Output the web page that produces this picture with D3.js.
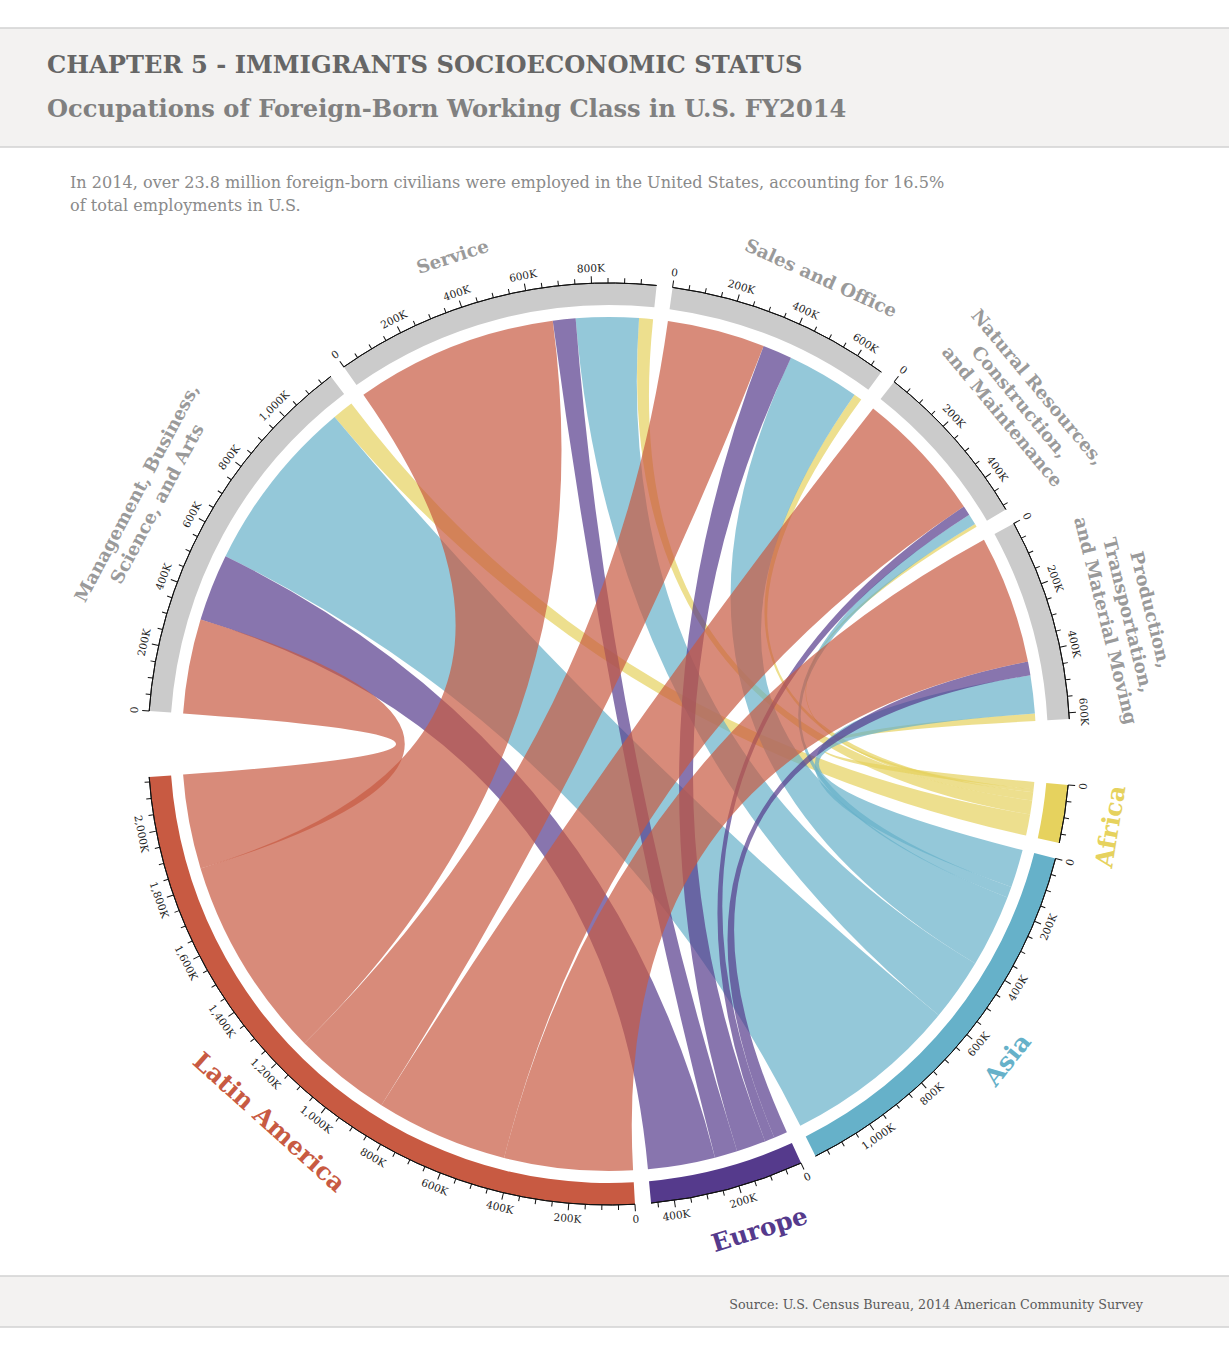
<!DOCTYPE html>
<html>
<head>
<meta charset="utf-8">
<script src="https://cdn.jsdelivr.net/npm/d3@7"></script>
<style>
  body { margin: 0; background: #fff; }
  text { font-family: Georgia, "DejaVu Serif", serif; }
</style>
</head>
<body>
<svg id="chart" width="1229" height="1350"></svg>
<script>
// occupations, drawn clockwise over the top half
const occupations = ["Management, Business, Science, and Arts", "Service", "Sales and Office",
  "Natural Resources, Construction, and Maintenance", "Production, Transportation, and Material Moving"];
const occupationLines = [
  ["Management, Business,", "Science, and Arts"],
  ["Service"],
  ["Sales and Office"],
  ["Natural Resources,", "Construction,", "and Maintenance"],
  ["Production,", "Transportation,", "and Material Moving"]
];
// regions of birth, drawn clockwise over the bottom half
const regions = ["Africa", "Asia", "Europe", "Latin America"];
const regionColors = ["#e6d25e", "#66b1c9", "#553a8c", "#c85a42"];

// employed workers (thousands) by region, in occupation order
const africa = [70, 46, 27, 10, 24];
const asia = [581, 207, 240, 36, 126];
const europe = [222, 75, 97, 32, 45];
const latinAmerica = [312, 669, 323, 437, 424];

const tickStep = 50;     // thousands
const labelStep = 200;   // thousands

const svg = d3.select("#chart");

// header and footer bands
svg.append("rect").attr("x", -1).attr("y", 28).attr("width", 1231).attr("height", 119)
  .attr("fill", "#f3f2f1").attr("stroke", "#d2d2d2").attr("stroke-width", 1.5);
svg.append("rect").attr("x", -1).attr("y", 1276).attr("width", 1231).attr("height", 51)
  .attr("fill", "#f3f2f1").attr("stroke", "#d2d2d2").attr("stroke-width", 1.5);

// shrink or grow a text until it spans the given width
function fit(sel, width) {
  const w = sel.node().getComputedTextLength();
  const fs = parseFloat(sel.style("font-size"));
  sel.style("font-size", (fs * width / w) + "px");
  return fs * width / w;
}

fit(svg.append("text").attr("x", 47).attr("y", 73)
  .style("font-size", "24px").style("font-weight", "bold").attr("fill", "#666")
  .text("CHAPTER 5 - IMMIGRANTS SOCIOECONOMIC STATUS"), 756);
fit(svg.append("text").attr("x", 47).attr("y", 117)
  .style("font-size", "24px").style("font-weight", "bold").attr("fill", "#808080")
  .text("Occupations of Foreign-Born Working Class in U.S. FY2014"), 800);
const subSize = fit(svg.append("text").attr("x", 70).attr("y", 188)
  .style("font-size", "16px").attr("fill", "#8a8a8a")
  .text("In 2014, over 23.8 million foreign-born civilians were employed in the United States, accounting for 16.5%"), 875);
svg.append("text").attr("x", 70).attr("y", 211)
  .style("font-size", subSize + "px").attr("fill", "#8a8a8a")
  .text("of total employments in U.S.");
const src = svg.append("text").attr("x", 1143).attr("y", 1309).attr("text-anchor", "end")
  .style("font-size", "13px").attr("fill", "#5a5a5a")
  .text("Source: U.S. Census Bureau, 2014 American Community Survey");
fit(src, 414);

// ---- chord layout: occupations on top, regions below, empty gaps left and right
const rows = [africa, asia, europe, latinAmerica];
const occTotals = occupations.map((o, i) => d3.sum(rows, r => r[i]));
const regTotals = rows.map(r => d3.sum(r));
const grand = d3.sum(regTotals);

const rad = Math.PI / 180;
const padAngle = 2 * rad;
const sideGap = 8.2 * rad;
const angle = d3.scaleLinear()
  .domain([0, 2 * grand])
  .range([0, 2 * Math.PI - 7 * padAngle - 2 * sideGap]);

const groups = [];
let a = -Math.PI / 2 + sideGap / 2;
occupations.forEach((name, i) => {
  groups.push({ name, kind: "occ", index: i, value: occTotals[i], startAngle: a, endAngle: a + angle(occTotals[i]) });
  a += angle(occTotals[i]) + padAngle;
});
a += sideGap - padAngle;
regions.forEach((name, r) => {
  groups.push({ name, kind: "reg", index: r, value: regTotals[r], startAngle: a, endAngle: a + angle(regTotals[r]) });
  a += angle(regTotals[r]) + padAngle;
});
const occGroups = groups.filter(g => g.kind === "occ");
const regGroups = groups.filter(g => g.kind === "reg");

// subgroups run in reverse order of the opposite side so the ribbons stay untangled
const occSub = {}, regSub = {};
occGroups.forEach((g, i) => {
  let s = g.startAngle;
  for (let r = regions.length - 1; r >= 0; r--) {
    const e = s + angle(rows[r][i]);
    occSub[i + "-" + r] = { startAngle: s, endAngle: e };
    s = e;
  }
});
regGroups.forEach((g, r) => {
  let s = g.startAngle;
  for (let i = occupations.length - 1; i >= 0; i--) {
    const e = s + angle(rows[r][i]);
    regSub[i + "-" + r] = { startAngle: s, endAngle: e };
    s = e;
  }
});
const chords = [];
rows.forEach((row, r) => row.forEach((v, i) => {
  chords.push({ region: r, source: regSub[i + "-" + r], target: occSub[i + "-" + r] });
}));

const cx = 609, cy = 744;
const outerR = 461, innerR = 439, chordR = 427;

const g = svg.append("g").attr("transform", `translate(${cx},${cy})`);

// ribbons, Latin America drawn last so it sits on top
g.append("g").selectAll("path")
  .data(chords)
  .join("path")
  .attr("d", d3.ribbon().radius(chordR))
  .attr("fill", d => regionColors[d.region])
  .attr("fill-opacity", 0.7);

// group arcs
const arc = d3.arc().innerRadius(innerR).outerRadius(outerR);
g.append("g").selectAll("path")
  .data(groups)
  .join("path")
  .attr("d", arc)
  .attr("fill", d => d.kind === "occ" ? "#cbcbcb" : regionColors[d.index]);

// axis line along the outer edge
const edge = d3.arc().innerRadius(outerR).outerRadius(outerR);
g.append("g").selectAll("path")
  .data(groups)
  .join("path")
  .attr("d", edge)
  .attr("fill", "none")
  .attr("stroke", "#111")
  .attr("stroke-width", 1);

// ticks
const fmt = d3.format(",");
const ticks = [];
groups.forEach(gr => {
  const k = (gr.endAngle - gr.startAngle) / gr.value;
  d3.range(0, gr.value + 1, tickStep).forEach(v => {
    ticks.push({ angle: gr.startAngle + v * k, value: v, major: v % labelStep === 0 });
  });
});
const deg = x => x / rad;
const tick = g.append("g").selectAll("g")
  .data(ticks)
  .join("g")
  .attr("transform", d => `rotate(${deg(d.angle)})`);
tick.append("line")
  .attr("y1", -outerR)
  .attr("y2", d => -outerR - (d.major ? 7 : 5))
  .attr("stroke", "#111")
  .attr("stroke-width", 1);

const flipped = t => {
  let d = deg(t) % 360;
  if (d < 0) d += 360;
  return d > 90 && d < 270;
};
tick.filter(d => d.major)
  .append("text")
  .attr("transform", d => `translate(0,${-outerR - 15})` + (flipped(d.angle) ? " rotate(180)" : ""))
  .attr("dy", "0.35em")
  .attr("text-anchor", "middle")
  .style("font-size", "10.5px")
  .attr("fill", "#222")
  .text(d => d.value === 0 ? "0" : fmt(d.value) + "K");

// occupation names
const occNudge = [-0.5, -3.2, 2.4, 1.4, 1.9];
const occText = g.append("g").selectAll("text")
  .data(occGroups)
  .join("text")
  .attr("text-anchor", "middle")
  .style("font-size", "20px")
  .style("font-weight", "bold")
  .attr("fill", "#9a9a9a")
  .attr("transform", (d, i) => `rotate(${deg((d.startAngle + d.endAngle) / 2) + occNudge[i]})`);
occText.selectAll("tspan")
  .data((d, i) => occupationLines[i].map((line, j, all) => ({ line, r: 512 + (all.length - 1 - j) * 23 })))
  .join("tspan")
  .attr("x", 0)
  .attr("y", d => -d.r)
  .attr("dy", "0.35em")
  .text(d => d.line);
// scale occupation names from the widest line
const probe = occText.filter((d, i) => i === 0).select("tspan").node();
const occSize = 20 * 244 / probe.getComputedTextLength();
occText.style("font-size", occSize + "px");

// region names
const regNudge = [0.6, -0.5, -2.3, 0.6];
const regText = g.append("g").selectAll("text")
  .data(regGroups)
  .join("text")
  .attr("text-anchor", "middle")
  .attr("dy", "0.35em")
  .style("font-size", "24px")
  .style("font-weight", "bold")
  .attr("fill", d => regionColors[d.index])
  .attr("transform", (d, i) => `rotate(${deg((d.startAngle + d.endAngle) / 2) + regNudge[i]}) translate(0,${-508}) rotate(180)`)
  .text(d => d.name);
const latin = regText.filter(d => d.index === 3).node();
regText.style("font-size", (24 * 195 / latin.getComputedTextLength()) + "px");
</script>
</body>
</html>
